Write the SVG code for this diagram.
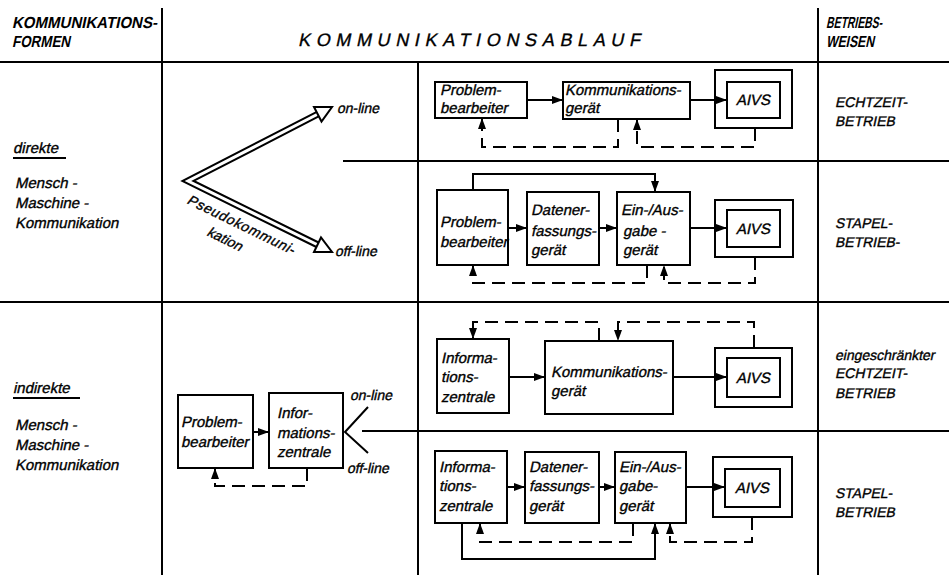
<svg xmlns="http://www.w3.org/2000/svg" width="949" height="575" viewBox="0 0 949 575">
  <defs>
    <marker id="ah" markerUnits="userSpaceOnUse" markerWidth="11" markerHeight="8" refX="11" refY="4" orient="auto">
      <path d="M0,0 L11,4 L0,8 z" fill="#000"/>
    </marker>
    <style>
      text { font-family: "Liberation Sans", Arial, sans-serif; font-style: normal; fill: #000; stroke: #000; stroke-width: 0.35; }
      .hd { font-size: 16px; font-weight: bold; stroke-width: 0; }
      .ti { font-size: 18px; }
      .bx { font-size: 15px; }
      .lb { font-size: 15px; }
      .op { font-size: 14px; }
      .rt { font-size: 14px; }
      .c { text-anchor: middle; }
      .grid { stroke: #000; stroke-width: 2; fill: none; }
      .box { stroke: #000; stroke-width: 2; fill: #fff; }
      .flow { stroke: #000; stroke-width: 2; fill: none; marker-end: url(#ah); }
      .dash { stroke: #000; stroke-width: 2; fill: none; stroke-dasharray: 13 7; marker-end: url(#ah); }
      .plain { stroke: #000; stroke-width: 2; fill: none; }
    </style>
  </defs>
  <rect width="949" height="575" fill="#fff"/>

  <!-- table grid -->
  <g id="grid" class="grid">
    <path d="M0,62 H949"/>
    <path d="M162,8 V575"/>
    <path d="M818,8 V575"/>
    <path d="M418,62 V575"/>
    <path d="M343,161 H949"/>
    <path d="M0,302 H949"/>
    <path d="M362,431 H949"/>
  </g>

  <!-- column headings (slanted lettering via skew) -->
  <g id="headings">
    <text class="hd" transform="translate(12,28) skewX(-12)" textLength="145" lengthAdjust="spacingAndGlyphs">KOMMUNIKATIONS-</text>
    <text class="hd" transform="translate(12,47) skewX(-12)" textLength="58" lengthAdjust="spacingAndGlyphs">FORMEN</text>
    <text class="ti" transform="translate(298,46) skewX(-12)" textLength="342" lengthAdjust="spacing">KOMMUNIKATIONSABLAUF</text>
    <text class="hd" transform="translate(826,28) skewX(-12)" textLength="56" lengthAdjust="spacingAndGlyphs">BETRIEBS-</text>
    <text class="hd" transform="translate(826,47) skewX(-12)" textLength="48" lengthAdjust="spacingAndGlyphs">WEISEN</text>
  </g>

  <!-- row labels -->
  <g id="label-direkt">
    <text class="lb" transform="translate(13,153) skewX(-12)">direkte</text>
    <path d="M13,158 H66" class="plain"/>
    <text class="lb" transform="translate(15,188) skewX(-12)">Mensch -</text>
    <text class="lb" transform="translate(15,208) skewX(-12)">Maschine -</text>
    <text class="lb" transform="translate(15,228) skewX(-12)">Kommunikation</text>
  </g>
  <g id="label-indirekt">
    <text class="lb" transform="translate(13,393) skewX(-12)">indirekte</text>
    <path d="M13,398 H80" class="plain"/>
    <text class="lb" transform="translate(15,430) skewX(-12)">Mensch -</text>
    <text class="lb" transform="translate(15,450) skewX(-12)">Maschine -</text>
    <text class="lb" transform="translate(15,470) skewX(-12)">Kommunikation</text>
  </g>

  <!-- operating modes -->
  <g id="modes">
    <text class="rt" transform="translate(835,107) skewX(-12)">ECHTZEIT-</text>
    <text class="rt" transform="translate(835,126) skewX(-12)">BETRIEB</text>
    <text class="rt" transform="translate(835,228) skewX(-12)">STAPEL-</text>
    <text class="rt" transform="translate(835,247) skewX(-12)">BETRIEB-</text>
    <text class="rt" transform="translate(835,360) skewX(-12)">eingeschränkter</text>
    <text class="rt" transform="translate(835,378) skewX(-12)">ECHTZEIT-</text>
    <text class="rt" transform="translate(835,398) skewX(-12)">BETRIEB</text>
    <text class="rt" transform="translate(835,498) skewX(-12)">STAPEL-</text>
    <text class="rt" transform="translate(835,517) skewX(-12)">BETRIEB</text>
  </g>

  <!-- pseudo-communication double arrow -->
  <g id="pseudo">
    <path d="M318,114 L188,181 L318,245" fill="none" stroke="#000" stroke-width="7" stroke-linejoin="miter"/>
    <path d="M318,114 L188,181 L318,245" fill="none" stroke="#fff" stroke-width="3" stroke-linejoin="miter"/>
    <polygon points="332,107 314,107 321.5,121.5" fill="#fff" stroke="#000" stroke-width="2" stroke-linejoin="miter"/>
    <polygon points="332,252 314,252 321,237.5" fill="#fff" stroke="#000" stroke-width="2" stroke-linejoin="miter"/>
    <text class="op" transform="translate(337,113) skewX(-12)">on-line</text>
    <text class="op" transform="translate(335,256) skewX(-12)">off-line</text>
    <text class="op" transform="translate(186,203) rotate(26) skewX(-12)" textLength="118" lengthAdjust="spacing">Pseudokommuni-</text>
    <text class="op" transform="translate(206,235) rotate(26) skewX(-12)">kation</text>
  </g>

  <!-- direct, on-line -->
  <g id="d1-problem">
    <rect class="box" x="435" y="82" width="92" height="36"/>
    <text class="bx" transform="translate(440,95) skewX(-12)">Problem-</text>
    <text class="bx" transform="translate(440,113) skewX(-12)">bearbeiter</text>
  </g>
  <g id="d1-geraet">
    <rect class="box" x="563" y="82" width="127" height="37"/>
    <text class="bx" transform="translate(565,95) skewX(-12)">Kommunikations-</text>
    <text class="bx" transform="translate(565,113) skewX(-12)">gerät</text>
  </g>
  <g id="d1-aivs">
    <rect class="box" x="715" y="70" width="77" height="58"/>
    <rect class="box" x="727" y="82" width="53" height="36"/>
    <text class="bx c" transform="translate(753,105) skewX(-12)">AIVS</text>
  </g>

  <!-- direct, off-line -->
  <g id="d2-problem">
    <rect class="box" x="437" y="190" width="71" height="75"/>
    <text class="bx" transform="translate(440,227) skewX(-12)">Problem-</text>
    <text class="bx" transform="translate(440,247) skewX(-12)">bearbeiter</text>
  </g>
  <g id="d2-erfassung">
    <rect class="box" x="527" y="192" width="72" height="73"/>
    <text class="bx" transform="translate(531,215) skewX(-12)">Datener-</text>
    <text class="bx" transform="translate(531,236) skewX(-12)">fassungs-</text>
    <text class="bx" transform="translate(531,255) skewX(-12)">gerät</text>
  </g>
  <g id="d2-ea">
    <rect class="box" x="617" y="192" width="73" height="73"/>
    <text class="bx" transform="translate(621,215) skewX(-12)">Ein-/Aus-</text>
    <text class="bx" transform="translate(623,236) skewX(-12)">gabe -</text>
    <text class="bx" transform="translate(623,255) skewX(-12)">gerät</text>
  </g>
  <g id="d2-aivs">
    <rect class="box" x="715" y="200" width="78" height="57"/>
    <rect class="box" x="727" y="210" width="53" height="37"/>
    <text class="bx c" transform="translate(753,234) skewX(-12)">AIVS</text>
  </g>

  <!-- indirect, left part -->
  <g id="i-problem">
    <rect class="box" x="178" y="395" width="75" height="73"/>
    <text class="bx" transform="translate(181,427) skewX(-12)">Problem-</text>
    <text class="bx" transform="translate(181,447) skewX(-12)">bearbeiter</text>
  </g>
  <g id="i-zentrale">
    <rect class="box" x="269" y="393" width="74" height="75"/>
    <text class="bx" transform="translate(277,418) skewX(-12)">Infor-</text>
    <text class="bx" transform="translate(277,438) skewX(-12)">mations-</text>
    <text class="bx" transform="translate(277,457) skewX(-12)">zentrale</text>
  </g>
  <g id="i-fork">
    <path class="plain" d="M368,407 L345,432 L368,453"/>
    <text class="op" transform="translate(350,400) skewX(-12)">on-line</text>
    <text class="op" transform="translate(347,473) skewX(-12)">off-line</text>
  </g>

  <!-- indirect, on-line -->
  <g id="i1-zentrale">
    <rect class="box" x="437" y="339" width="72" height="74"/>
    <text class="bx" transform="translate(441,363) skewX(-12)">Informa-</text>
    <text class="bx" transform="translate(441,382) skewX(-12)">tions-</text>
    <text class="bx" transform="translate(441,402) skewX(-12)">zentrale</text>
  </g>
  <g id="i1-geraet">
    <rect class="box" x="545" y="341" width="128" height="73"/>
    <text class="bx" transform="translate(551,377) skewX(-12)">Kommunikations-</text>
    <text class="bx" transform="translate(551,396) skewX(-12)">gerät</text>
  </g>
  <g id="i1-aivs">
    <rect class="box" x="715" y="348" width="77" height="59"/>
    <rect class="box" x="727" y="358" width="53" height="39"/>
    <text class="bx c" transform="translate(753,383) skewX(-12)">AIVS</text>
  </g>

  <!-- indirect, off-line -->
  <g id="i2-zentrale">
    <rect class="box" x="435" y="451" width="72" height="72"/>
    <text class="bx" transform="translate(439,472) skewX(-12)">Informa-</text>
    <text class="bx" transform="translate(439,491) skewX(-12)">tions-</text>
    <text class="bx" transform="translate(439,511) skewX(-12)">zentrale</text>
  </g>
  <g id="i2-erfassung">
    <rect class="box" x="525" y="452" width="74" height="71"/>
    <text class="bx" transform="translate(529,472) skewX(-12)">Datener-</text>
    <text class="bx" transform="translate(529,491) skewX(-12)">fassungs-</text>
    <text class="bx" transform="translate(529,511) skewX(-12)">gerät</text>
  </g>
  <g id="i2-ea">
    <rect class="box" x="615" y="452" width="71" height="71"/>
    <text class="bx" transform="translate(619,472) skewX(-12)">Ein-/Aus-</text>
    <text class="bx" transform="translate(619,491) skewX(-12)">gabe-</text>
    <text class="bx" transform="translate(619,511) skewX(-12)">gerät</text>
  </g>
  <g id="i2-aivs">
    <rect class="box" x="713" y="457" width="79" height="60"/>
    <rect class="box" x="725" y="469" width="55" height="38"/>
    <text class="bx c" transform="translate(752,493) skewX(-12)">AIVS</text>
  </g>

  <!-- connectors -->
  <g id="connectors">
    <path class="flow" d="M527,100 H563"/>
    <path class="flow" d="M690,100 H727"/>
    <path class="dash" d="M618,119 V147 H482 V118"/>
    <path class="dash" d="M755,128 V147 H637 V119"/>

    <path class="flow" d="M508,228 H527"/>
    <path class="flow" d="M599,228 H617"/>
    <path class="flow" d="M690,228 H727"/>
    <path class="flow" d="M473,190 V174 H655 V192"/>
    <path class="dash" d="M647,265 V283 H473 V265"/>
    <path class="dash" d="M755,257 V283 H664 V265"/>

    <path class="flow" d="M253,432 H269"/>
    <path class="dash" d="M307,468 V486 H215 V468"/>

    <path class="flow" d="M509,377 H545"/>
    <path class="flow" d="M673,377 H727"/>
    <path class="dash" d="M599,341 V322 H473 V339"/>
    <path class="dash" d="M754,348 V322 H618 V341"/>

    <path class="flow" d="M507,487 H525"/>
    <path class="flow" d="M599,487 H615"/>
    <path class="flow" d="M686,487 H725"/>
    <path class="dash" d="M633,523 V542 H480 V523"/>
    <path class="dash" d="M752,517 V542 H670 V523"/>
    <path class="flow" d="M462,523 V559 H655 V523"/>
  </g>
</svg>
